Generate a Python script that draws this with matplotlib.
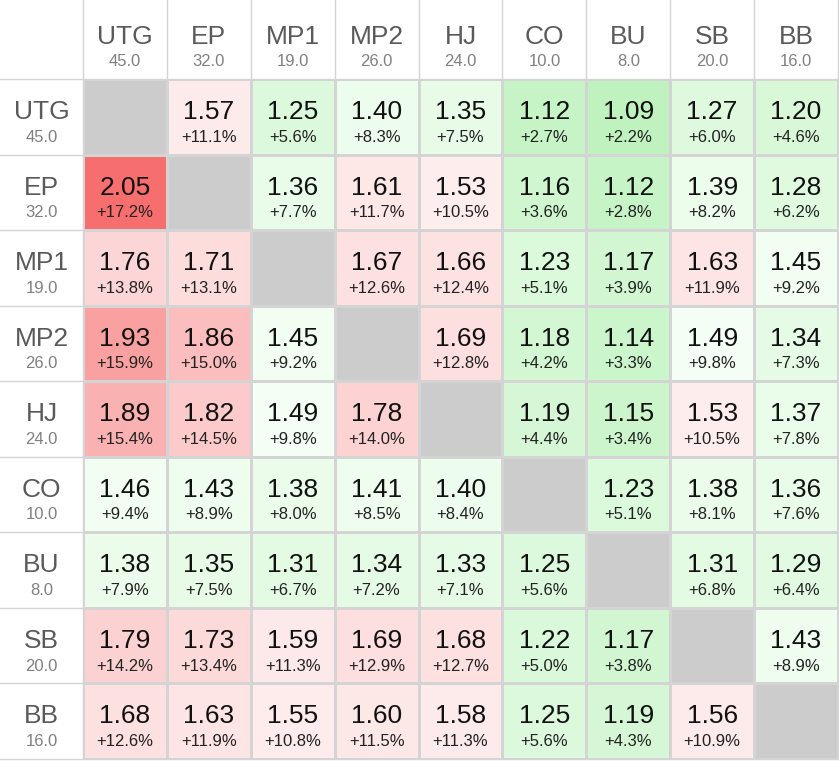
import numpy as np
import matplotlib
matplotlib.use('Agg')
import matplotlib.pyplot as plt
from matplotlib.colors import LinearSegmentedColormap, Normalize

plt.rcParams['font.family'] = ['Liberation Sans', 'DejaVu Sans']

positions = ['UTG', 'EP', 'MP1', 'MP2', 'HJ', 'CO', 'BU', 'SB', 'BB']
pos_values = [45.0, 32.0, 19.0, 26.0, 24.0, 10.0, 8.0, 20.0, 16.0]

nan = np.nan
ratio = [
    [nan, 1.57, 1.25, 1.40, 1.35, 1.12, 1.09, 1.27, 1.20],
    [2.05, nan, 1.36, 1.61, 1.53, 1.16, 1.12, 1.39, 1.28],
    [1.76, 1.71, nan, 1.67, 1.66, 1.23, 1.17, 1.63, 1.45],
    [1.93, 1.86, 1.45, nan, 1.69, 1.18, 1.14, 1.49, 1.34],
    [1.89, 1.82, 1.49, 1.78, nan, 1.19, 1.15, 1.53, 1.37],
    [1.46, 1.43, 1.38, 1.41, 1.40, nan, 1.23, 1.38, 1.36],
    [1.38, 1.35, 1.31, 1.34, 1.33, 1.25, nan, 1.31, 1.29],
    [1.79, 1.73, 1.59, 1.69, 1.68, 1.22, 1.17, nan, 1.43],
    [1.68, 1.63, 1.55, 1.60, 1.58, 1.25, 1.19, 1.56, nan],
]
pct = [
    [nan, 11.1, 5.6, 8.3, 7.5, 2.7, 2.2, 6.0, 4.6],
    [17.2, nan, 7.7, 11.7, 10.5, 3.6, 2.8, 8.2, 6.2],
    [13.8, 13.1, nan, 12.6, 12.4, 5.1, 3.9, 11.9, 9.2],
    [15.9, 15.0, 9.2, nan, 12.8, 4.2, 3.3, 9.8, 7.3],
    [15.4, 14.5, 9.8, 14.0, nan, 4.4, 3.4, 10.5, 7.8],
    [9.4, 8.9, 8.0, 8.5, 8.4, nan, 5.1, 8.1, 7.6],
    [7.9, 7.5, 6.7, 7.2, 7.1, 5.6, nan, 6.8, 6.4],
    [14.2, 13.4, 11.3, 12.9, 12.7, 5.0, 3.8, nan, 8.9],
    [12.6, 11.9, 10.8, 11.5, 11.3, 5.6, 4.3, 10.9, nan],
]

Z = np.ma.masked_invalid(np.array(ratio))
n = len(positions)

# colour scale: green below ~1.5, red above, red ramps up fast at the top end
vmin, vmax = 1.09, 2.05
nodes = [(1.09, '#C0F2C0'), (1.20, '#D8F8D8'), (1.30, '#E2FAE2'),
         (1.40, '#EDFDED'), (1.49, '#F4FEF4'), (1.51, '#FEEFEF'),
         (1.60, '#FDE8E8'), (1.70, '#FDDEDE'), (1.80, '#FCD0D0'),
         (1.86, '#FBBEBE'), (1.93, '#F9A2A2'), (2.05, '#F76E6E')]
cmap = LinearSegmentedColormap.from_list(
    'rg', [((v - vmin) / (vmax - vmin), c) for v, c in nodes])
cmap.set_bad('#CCCCCC')

W, H = 839, 761
fig = plt.figure(figsize=(W / 100, H / 100), dpi=100)
gx0, gy0, gx1, gy1 = 83, 79, 838, 759
ax = fig.add_axes([gx0 / W, 1 - gy1 / H, (gx1 - gx0) / W, (gy1 - gy0) / H])
ax.pcolormesh(np.arange(n + 1), np.arange(n + 1), Z, cmap=cmap,
              norm=Normalize(vmin, vmax), edgecolors='#D4D4D4', linewidth=1.0)
ax.set_xlim(0, n)
ax.set_ylim(n, 0)
ax.axis('off')

cw = (gx1 - gx0) / n
rh = (gy1 - gy0) / n
hdr_h = gy0 / rh
hdr_w = gx0 / cw

# grid lines running into the header row/column
for k in range(n + 1):
    ax.plot([k, k], [-hdr_h, n], color='#D4D4D4', lw=1.0, clip_on=False)
    ax.plot([-hdr_w, n], [k, k], color='#D4D4D4', lw=1.0, clip_on=False)

# cell texts
for i in range(n):
    for j in range(n):
        if np.isnan(ratio[i][j]):
            continue
        ax.text(j + 0.5, i + 0.53, f'{ratio[i][j]:.2f}', ha='center',
                va='baseline', fontsize=19, color='#111111')
        ax.text(j + 0.5, i + 0.83, f'+{pct[i][j]:.1f}%', ha='center',
                va='baseline', fontsize=12, color='#222222')

# headers
for k, (p, v) in enumerate(zip(positions, pos_values)):
    ax.text(k + 0.5, -hdr_h + 43.5 / rh, p, ha='center', va='baseline',
            fontsize=19, color='#5A5A5A', clip_on=False)
    ax.text(k + 0.5, -hdr_h + 66 / rh, f'{v:.1f}', ha='center', va='baseline',
            fontsize=12, color='#808080', clip_on=False)
    ax.text(-hdr_w / 2, k + 0.53, p, ha='center', va='baseline',
            fontsize=19, color='#5A5A5A', clip_on=False)
    ax.text(-hdr_w / 2, k + 0.83, f'{v:.1f}', ha='center', va='baseline',
            fontsize=12, color='#808080', clip_on=False)

fig.savefig('out.png', dpi=100, facecolor='white')
